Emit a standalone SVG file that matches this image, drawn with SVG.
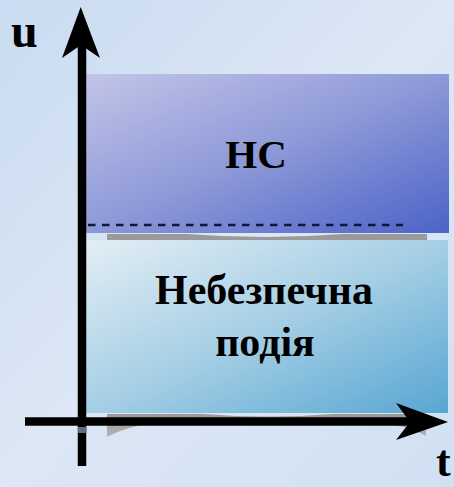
<svg xmlns="http://www.w3.org/2000/svg" width="454" height="487" viewBox="0 0 454 487">
<defs>
<linearGradient id="bg" x1="0" y1="0" x2="1" y2="1">
<stop offset="0" stop-color="#c9dcf1"/>
<stop offset="0.5" stop-color="#dde7f5"/>
<stop offset="1" stop-color="#d0e1f3"/>
</linearGradient>
<linearGradient id="gTop" x1="0" y1="0" x2="1" y2="1">
<stop offset="0" stop-color="#c3c6e8"/>
<stop offset="0.5" stop-color="#8e99d8"/>
<stop offset="1" stop-color="#4c63c8"/>
</linearGradient>
<linearGradient id="gBot" x1="0" y1="0" x2="1" y2="1">
<stop offset="0" stop-color="#e4eef5"/>
<stop offset="0.5" stop-color="#a6cfe5"/>
<stop offset="1" stop-color="#58a6d2"/>
</linearGradient>
<linearGradient id="gSh" x1="0" y1="0" x2="0" y2="1">
<stop offset="0" stop-color="#999"/>
<stop offset="1" stop-color="#b4b4b4"/>
</linearGradient>
<style>
text{font-family:"Liberation Serif",Tinos,"Times New Roman","DejaVu Serif",serif;font-weight:700;fill:#000}
.axis{stroke:#000;stroke-width:8.5;fill:none}
.dash{stroke:#15153a;stroke-width:2.5;stroke-dasharray:7.5 6.5;fill:none}
</style>
</defs>
<rect width="454" height="487" fill="url(#bg)"/>
<g id="node-hs">
<path d="M107,234 H187 Q265,240 343,234 H427 V241 H107 Z" fill="#9a9a9a"/>
<rect x="80" y="74" width="369" height="159" fill="url(#gTop)"/>
<line class="dash" x1="88" y1="225" x2="403" y2="225"/>
<text x="256" y="168" font-size="41" text-anchor="middle">НС</text>
</g>
<g id="node-event">
<path d="M107,414 H203 Q268,419 333,414 H426 V436 Q405,424 380,424 H150 Q128,426 107,437 Z" fill="url(#gSh)"/>
<rect x="80" y="240" width="368" height="173" fill="url(#gBot)"/>
<text x="264" y="304" font-size="42" text-anchor="middle">Небезпечна</text>
<text x="265" y="356" font-size="42" text-anchor="middle">подія</text>
</g>
<g id="connectors">
<line class="axis" x1="82" y1="466" x2="82" y2="40"/>
<path d="M80.7,7 L100,58 L81,45 L62,58 Z" fill="#000"/>
<line class="axis" x1="25" y1="421.5" x2="420" y2="421.5"/>
<path d="M448,422 L396,403 L410,422 L396,440 Z" fill="#000"/>
<rect x="78" y="427" width="8.5" height="6" fill="#5d6e80"/>
</g>
<g id="labels">
<text x="11" y="47" font-size="48">u</text>
<text x="436" y="476" font-size="44">t</text>
</g>
</svg>
